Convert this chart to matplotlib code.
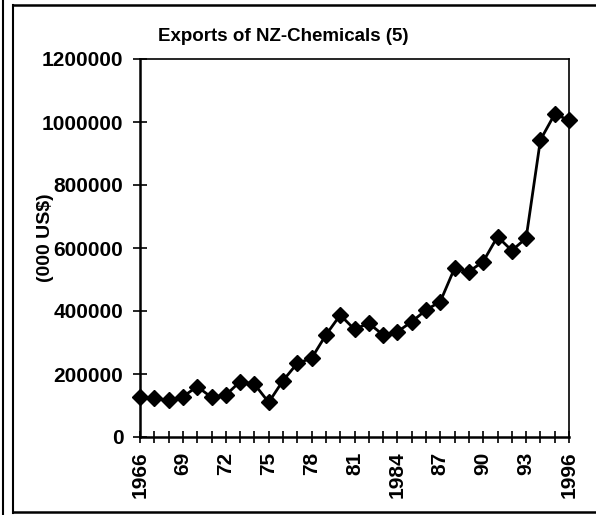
import matplotlib
matplotlib.use("Agg")
import matplotlib.pyplot as plt
from matplotlib.lines import Line2D

plt.rcParams['font.family'] = ['Liberation Sans', 'DejaVu Sans']
plt.rcParams['font.weight'] = 'bold'

years = list(range(1966, 1997))
exports = [128000, 123000, 117000, 128000, 160000, 126000, 133000, 176000, 168000, 110000,
           179000, 234000, 250000, 324000, 387000, 342000, 361000, 324000, 334000, 366000,
           403000, 430000, 536000, 525000, 557000, 636000, 592000, 631000, 943000, 1025000,
           1006000]
x_labels = {1966: "1966", 1969: "69", 1972: "72", 1975: "75", 1978: "78", 1981: "81",
            1984: "1984", 1987: "87", 1990: "90", 1993: "93", 1996: "1996"}
y_ticks = [0, 200000, 400000, 600000, 800000, 1000000, 1200000]
title = "Exports of NZ-Chemicals (5)"
y_label = "(000 US$)"

W, H = 596, 515
fig = plt.figure(figsize=(W / 100, H / 100), dpi=100)
ax = fig.add_axes([140 / W, 1 - 437 / H, (569 - 140) / W, (437 - 59) / H])

ax.plot(years, exports, color='black', linewidth=2.0, marker='D', markersize=8.5,
        markerfacecolor='black', markeredgecolor='black', clip_on=False, zorder=5)

ax.set_xlim(1966, 1996)
ax.set_ylim(0, 1200000)
ax.set_xticks(years)
ax.set_xticklabels([x_labels.get(y, "") for y in years], rotation=90, fontsize=15,
                   fontweight='bold')
ax.set_yticks(y_ticks)
ax.set_yticklabels([str(v) for v in y_ticks], fontsize=15, fontweight='bold')
ax.tick_params(axis='y', direction='inout', length=10, width=1.2, pad=7)
ax.tick_params(axis='x', direction='inout', length=9, width=1.2, pad=6)

for s in ['left', 'bottom']:
    ax.spines[s].set_linewidth(1.8)
for s in ['top', 'right']:
    ax.spines[s].set_linewidth(1.2)

fig.text(283 / W, 1 - 36 / H, title, ha='center', va='center', fontsize=13.5,
         fontweight='bold')
fig.text(45 / W, 1 - 238 / H, y_label, ha='center', va='center', rotation=90,
         fontsize=14, fontweight='bold')

# outer frame
def fl(x0, y0, x1, y1, lw):
    fig.add_artist(Line2D([x0 / W, x1 / W], [1 - y0 / H, 1 - y1 / H],
                          transform=fig.transFigure, color='black', linewidth=lw))

fl(3, 0, 3, H, 1.5)
fl(13, 5, 13, 513, 1.5)
fl(13, 5, W, 5, 1.8)
fl(13, 512, W, 512, 1.8)

fig.savefig("out.png", dpi=100)
